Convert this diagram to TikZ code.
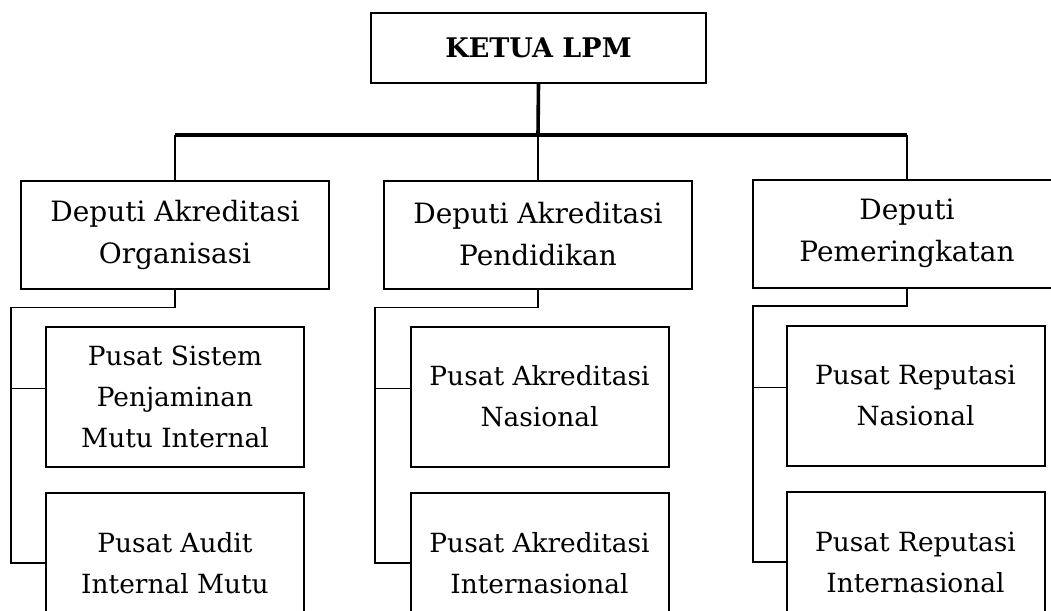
\documentclass[tikz,border=0pt]{standalone}
\usepackage{fontspec}
\setmainfont{DejaVu Serif}
\usetikzlibrary{calc}
\tikzset{
	kbox/.style={draw,line width=1pt,minimum width=167.5pt,minimum height=35pt,font=\fontsize{13.5}{16}\selectfont\bfseries},
	dbox/.style={draw,line width=1pt,minimum width=154pt,minimum height=54pt,align=center,font=\fontsize{14}{21}\selectfont},
	pbox/.style={draw,line width=1pt,minimum width=129pt,minimum height=70pt,align=center,font=\fontsize{13.2}{20.5}\selectfont},
	link/.style={line width=0.75pt},
	bus/.style={line width=1.8pt}
}

\begin{document}
\begin{tikzpicture}[x=0.5pt,y=-0.5pt]
	\useasboundingbox (0,0) rectangle (1051,611);
	\clip (0,0) rectangle (1051,611);

	\node [kbox] (ketua) at (538.5,48) {KETUA LPM};

	\node [dbox] (depA) at (175,234.5) {Deputi Akreditasi\\Organisasi};
	\node [dbox] (depB) at (538,234.5) {Deputi Akreditasi\\Pendidikan};
	\node [dbox] (depC) at (907,233.5) {Deputi\\Pemeringkatan};

	\node [pbox] (pusA1) at (175,396.5) {Pusat Sistem\\Penjaminan\\Mutu Internal};
	\node [pbox] (pusA2) at (175,563) {Pusat Audit\\Internal Mutu};
	\node [pbox] (pusB1) at (539.5,396.5) {Pusat Akreditasi\\Nasional};
	\node [pbox] (pusB2) at (539.5,563) {Pusat Akreditasi\\Internasional};
	\node [pbox] (pusC1) at (915.5,395.5) {Pusat Reputasi\\Nasional};
	\node [pbox] (pusC2) at (915.5,562) {Pusat Reputasi\\Internasional};

	\coordinate (hub) at (538,135);
	\coordinate (spA) at (11,307.5);
	\coordinate (spB) at (375,307.5);
	\coordinate (spC) at (753,306);

	\draw[bus] (ketua.south) -- (hub);
	\draw[bus] (depA.north |- hub) -- (depC.north |- hub);
	\foreach \c in {A,B,C}{
		\draw[link] (dep\c.north |- hub) -- (dep\c.north);
		\path ($(pus\c1.west)+(0,-8)$) coordinate (br\c);
		\draw[link] (dep\c.south) |- (sp\c) |- (pus\c2.west);
		\draw[link] (sp\c |- br\c) -- (br\c);
	}
\end{tikzpicture}
\end{document}
